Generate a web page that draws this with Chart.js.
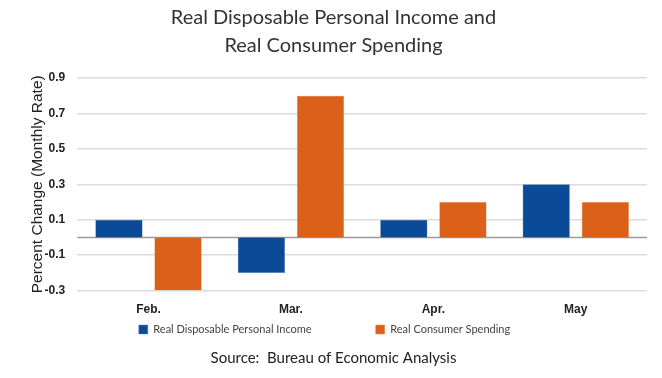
<!DOCTYPE html>
<html>
<head>
<meta charset="utf-8">
<script src="https://cdn.jsdelivr.net/npm/chart.js@4/dist/chart.umd.min.js"></script>
<style>
html,body{margin:0;padding:0;background:#fff;}
#wrap{width:662px;height:378px;position:relative;}
</style>
</head>
<body>
<div id="wrap"><canvas id="c" width="662" height="378"></canvas></div>
<script>
const categories = ["Feb.", "Mar.", "Apr.", "May"];
const incomeValues = [0.1, -0.2, 0.1, 0.3];
const spendingValues = [-0.3, 0.8, 0.2, 0.2];
const seriesNames = ["Real Disposable Personal Income", "Real Consumer Spending"];
const yMin = -0.3, yMax = 0.9, yStep = 0.2;

const zeroLine = {
  id: 'zeroLine',
  beforeDatasetsDraw(chart) {
    const y = chart.scales.y.getPixelForValue(0);
    const a = chart.chartArea;
    const ctx = chart.ctx;
    ctx.save();
    ctx.strokeStyle = '#9a9a9a';
    ctx.lineWidth = 1.5;
    ctx.beginPath();
    ctx.moveTo(a.left, y);
    ctx.lineTo(a.right, y);
    ctx.stroke();
    ctx.restore();
  }
};

// keep wide horizontal spacing between legend items without the tall vertical padding
const compactLegend = {
  id: 'compactLegend',
  afterInit(chart) {
    const lg = chart.legend;
    if (!lg) return;
    const origFit = lg.fit;
    lg.fit = function () {
      origFit.apply(this, arguments);
      this.height = 12;
    };
    const origDraw = lg.draw;
    lg.draw = function () {
      const saved = { top: this.top, left: this.left, right: this.right, height: this.height, bottom: this.bottom };
      const pad = this.options.labels.padding;
      this.top = saved.top - (pad + 5);
      this.height = saved.bottom + 20 - this.top;
      this.bottom = saved.bottom + 20;
      this.left = saved.left - 9;
      this.right = saved.right - 9;
      origDraw.apply(this, arguments);
      Object.assign(this, saved);
    };
  }
};

new Chart(document.getElementById('c'), {
  type: 'bar',
  data: {
    labels: categories,
    datasets: [
      { label: seriesNames[0], data: incomeValues, backgroundColor: '#0b4a96', borderColor: '#5d87bf', borderWidth: 0.5 },
      { label: seriesNames[1], data: spendingValues, backgroundColor: '#db611b', borderColor: '#e98a55', borderWidth: 0.5 }
    ]
  },
  options: {
    responsive: false,
    animation: false,
    devicePixelRatio: 1,
    layout: { padding: { left: 20, right: 15, top: 2, bottom: 11 } },
    datasets: { bar: { categoryPercentage: 0.83, barPercentage: 0.8 } },
    plugins: {
      title: {
        display: true,
        text: ["Real Disposable Personal Income and", "Real Consumer Spending"],
        font: { family: 'Lato', size: 20, weight: 'normal', lineHeight: 1.4 },
        color: '#333',
        padding: { top: 2, bottom: 18 }
      },
      subtitle: {
        display: true,
        position: 'bottom',
        text: "Source:  Bureau of Economic Analysis",
        font: { family: 'Lato', size: 15, weight: 'normal', lineHeight: 1.2 },
        color: '#222',
        padding: { top: 8, bottom: 0 }
      },
      legend: {
        position: 'bottom',
        labels: {
          boxWidth: 9, boxHeight: 9, padding: 64,
          font: { family: 'Lato', size: 11 },
          color: '#444'
        }
      },
      tooltip: { enabled: false }
    },
    scales: {
      x: {
        grid: { display: false, drawTicks: false },
        border: { display: false },
        ticks: {
          font: { family: 'Liberation Sans', size: 12, weight: 'bold' },
          color: '#222', padding: 12
        }
      },
      y: {
        min: yMin, max: yMax,
        ticks: {
          stepSize: yStep,
          callback: v => v.toFixed(1),
          font: { family: 'Liberation Sans', size: 12, weight: 'bold' },
          color: '#222', padding: 12
        },
        grid: { color: '#dcdcdc', lineWidth: 1.5, drawTicks: false },
        border: { display: false },
        title: {
          display: true,
          text: "Percent Change (Monthly Rate)",
          font: { family: 'Liberation Sans', size: 15.5, lineHeight: 1.2 },
          color: '#222',
          padding: { top: 8, bottom: -14 }
        }
      }
    }
  },
  plugins: [zeroLine, compactLegend]
});
</script>
</body>
</html>
